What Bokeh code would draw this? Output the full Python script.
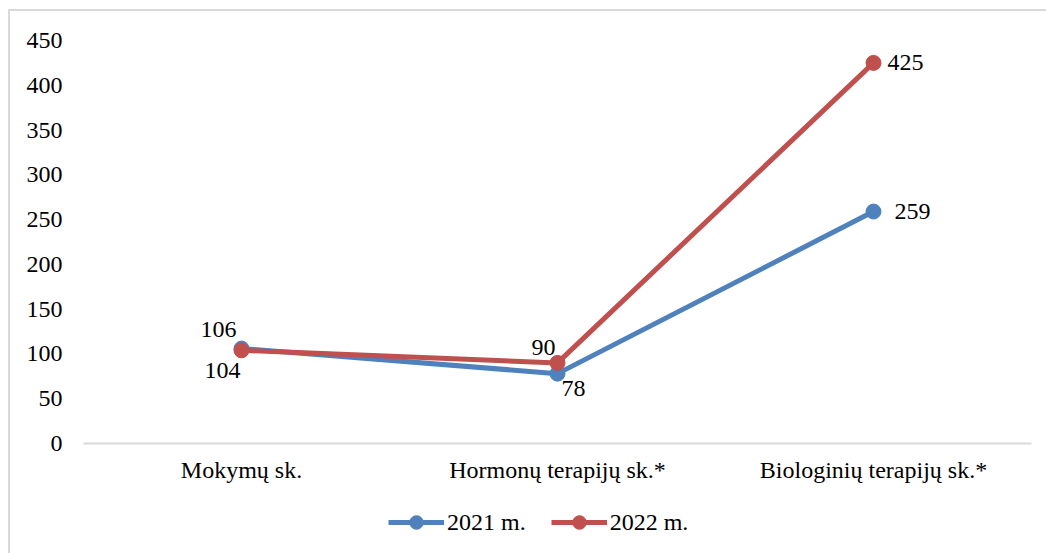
from bokeh.plotting import figure
from bokeh.layouts import column
from bokeh.models import Legend, LegendItem, FactorRange, Range1d, FixedTicker, ColumnDataSource
from bokeh.core.properties import value
from bokeh.embed import file_html
from bokeh.resources import INLINE

categories = ["Mokymų sk.", "Hormonų terapijų sk.*", "Biologinių terapijų sk.*"]
series_names = ["2021 m.", "2022 m."]
values_2021 = [106, 78, 259]
values_2022 = [104, 90, 425]
y_ticks = [0, 50, 100, 150, 200, 250, 300, 350, 400, 450]

# label placement offsets (screen px)
off_2021_x = [-23, 16, 39]
off_2021_y = [-19, 15, 0]
off_2022_x = [-19, -14, 32]
off_2022_y = [20, -15, 0]

FONT = "Liberation Serif"
FS = "24px"
BLUE = "#4F81BD"
RED = "#C0504D"
NAN = float("nan")

p = figure(width=1036, height=484, x_range=FactorRange(*categories),
           y_range=Range1d(0, 450), output_backend="svg", toolbar_location=None,
           min_border_left=73, min_border_right=15, min_border_top=29, min_border_bottom=52)
p.x_range.range_padding = 0
p.x_range.factor_padding = 0
p.outline_line_color = None
p.grid.visible = False

p.yaxis.ticker = FixedTicker(ticks=y_ticks)
p.yaxis.axis_line_color = None
p.yaxis.major_tick_line_color = None
p.yaxis.minor_tick_line_color = None
p.yaxis.major_label_text_font = FONT
p.yaxis.major_label_text_font_size = FS
p.yaxis.major_label_text_color = "#000000"
p.yaxis.major_label_standoff = 15

p.xaxis.axis_line_color = "#d9d9d9"
p.xaxis.axis_line_width = 2
p.xaxis.major_tick_line_color = None
p.xaxis.minor_tick_line_color = None
p.xaxis.major_label_text_font = FONT
p.xaxis.major_label_text_font_size = FS
p.xaxis.major_label_text_color = "#000000"
p.xaxis.major_label_standoff = 7

src1 = ColumnDataSource(dict(x=categories, y=values_2021, t=[str(v) for v in values_2021],
                             ox=off_2021_x, oy=off_2021_y))
src2 = ColumnDataSource(dict(x=categories, y=values_2022, t=[str(v) for v in values_2022],
                             ox=off_2022_x, oy=off_2022_y))

p.line("x", "y", source=src1, line_color=BLUE, line_width=5)
p.scatter("x", "y", source=src1, size=15, fill_color=BLUE, line_color=BLUE)
p.line("x", "y", source=src2, line_color=RED, line_width=5)
p.scatter("x", "y", source=src2, size=15, fill_color=RED, line_color=RED)

for src in (src1, src2):
    p.text("x", "y", text="t", source=src, x_offset="ox", y_offset="oy",
           text_font=value(FONT), text_font_size=FS, text_color="#000000",
           text_align="center", text_baseline="middle")

# legend strip below the chart (proxy renderers hold no visible data)
lf = figure(width=1036, height=58, x_range=Range1d(0, 1), y_range=Range1d(0, 1),
            output_backend="svg", toolbar_location=None, x_axis_type=None, y_axis_type=None,
            min_border_left=0, min_border_right=0, min_border_top=0, min_border_bottom=0)
lf.outline_line_color = None
lf.grid.visible = False
ll1 = lf.line(x=[NAN], y=[NAN], line_color=BLUE, line_width=5)
ls1 = lf.scatter(x=[NAN], y=[NAN], size=14, fill_color=BLUE, line_color=BLUE)
ll2 = lf.line(x=[NAN], y=[NAN], line_color=RED, line_width=5)
ls2 = lf.scatter(x=[NAN], y=[NAN], size=14, fill_color=RED, line_color=RED)

legend = Legend(items=[LegendItem(label=series_names[0], renderers=[ll1, ls1]),
                       LegendItem(label=series_names[1], renderers=[ll2, ls2])],
                orientation="horizontal", location=(305, 14),
                label_text_font=FONT, label_text_font_size=FS, label_text_color="#000000",
                glyph_width=56, glyph_height=34, label_height=34, spacing=25, label_standoff=3,
                border_line_color=None, background_fill_alpha=0, margin=0, padding=0)
lf.add_layout(legend)

layout = column(p, lf, spacing=0, margin=(9, 0, 0, 8),
                styles={"border-top": "2px solid #d9d9d9", "border-left": "2px solid #d9d9d9"})

open("out.html", "w").write(file_html(layout, INLINE))
